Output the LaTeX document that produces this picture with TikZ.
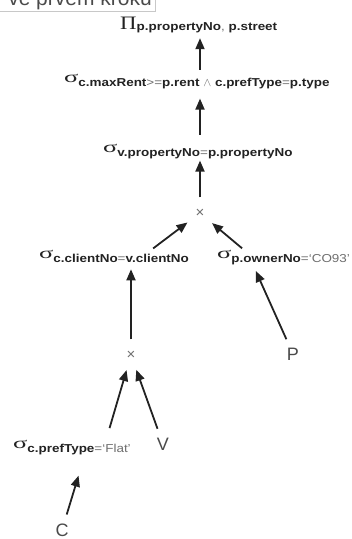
\documentclass[tikz,border=0pt]{standalone}
\usepackage{fontspec}
\usepackage{graphicx}
\usetikzlibrary{arrows.meta,calc,shapes.geometric}
\setmainfont{Liberation Sans}
\newfontfamily\attrfont[FakeStretch=1.17]{Liberation Sans Bold}
\newfontfamily\litfont[FakeStretch=1.17]{Liberation Sans}
\newfontfamily\grkfont{Liberation Serif}
\definecolor{ink}{HTML}{222222}
\definecolor{litgray}{HTML}{6E6E6E}
\definecolor{relgray}{HTML}{4A4A4A}
\definecolor{framegray}{HTML}{C8C8C8}
% operator symbol followed by a lowered subscript
\newcommand\opsub[2]{{#1}\raisebox{-4pt}{\attrfont\fontsize{11.5}{11.5}\selectfont\color{ink}#2}}
\newcommand\selop[1]{\opsub{\grkfont\fontsize{16}{16}\selectfont\color{ink}\scalebox{1.65}[1]{σ}}{#1}}
\newcommand\lit[1]{{\litfont\color{litgray}#1}}
\newcommand\andop{{\fontsize{12}{12}\selectfont\color{litgray}$\wedge$}}
\begin{document}
\begin{tikzpicture}[x=1pt,y=-1pt,
  lbl/.style={anchor=base west,inner sep=0pt},
  rel/.style={circle,minimum size=32pt,inner sep=0pt,font=\fontsize{18}{18}\selectfont,text=relgray},
  prodop/.style={circle,minimum size=31pt,inner sep=0pt,font=\fontsize{15}{15}\selectfont,text=litgray},
  arr/.style={draw=ink,line width=1.8pt,-{Triangle[length=11pt,width=9pt]}}]
\useasboundingbox (0,0) rectangle (352,539);

% caption box cut at the top edge
\begin{scope}
  \clip (0,0) rectangle (352,539);
  \draw[framegray,fill=white,line width=0.8pt] (-2,-20) rectangle (155,11);
  \clip (0,0) rectangle (154,10.5);
  \node[anchor=base east,inner sep=0pt,text=relgray,font=\fontsize{21}{21}\selectfont] (caption) at (152,5) {ve prvém kroku};
\end{scope}

% operator nodes
\node[lbl] (proj) at (120,29) {\opsub{\grkfont\fontsize{19}{19}\selectfont\color{ink}\scalebox{1.2}[1]{Π}}{\raisebox{3pt}{p.propertyNo\lit{, }p.street}}};
\node[lbl] (s1) at (64,82) {\selop{c.maxRent\lit{>=}p.rent\lit{\ }\andop\lit{\ }c.prefType\lit{=}p.type}};
\node[lbl] (s2) at (103,152) {\selop{v.propertyNo\lit{=}p.propertyNo}};
\node[prodop] (x1) at (200,213) {×};
\node[lbl] (s3) at (39,258) {\selop{c.clientNo\lit{=}v.clientNo}};
\node[lbl] (s4) at (217,258) {\selop{p.ownerNo\lit{=‘CO93’}}};
\node[prodop] (x2) at (131,355) {×};
\node[rel] (P) at (293,354) {P};
\node[lbl] (s5) at (13,448) {\selop{c.prefType\lit{=‘Flat’}}};
\node[rel] (V) at (163,444) {V};
\node[rel] (C) at (62,530) {C};

% data flow, from the relations up to the projection
\draw[arr,shorten <=4pt,shorten >=5pt] (s1.north -| x1) -- (proj.south -| x1);
\draw[arr,shorten <=9pt,shorten >=10pt] (s2.north -| x1) -- (s1.south -| x1);
\draw[arr,shorten >=2pt] (x1) -- (s2.south -| x1);
\draw[arr,shorten <=2pt] ($(s3.north west)!0.75!(s3.north east)$) -- (x1);
\draw[arr,shorten <=2pt] ($(s4.north west)!0.2!(s4.north east)$) -- (x1);
\draw[arr,shorten >=7pt] (x2) -- (x2 |- s3.south);
\draw[arr,shorten >=7pt] (P) -- ($(s4.south west)!0.27!(s4.south east)$);
\draw[arr,shorten <=12pt] ($(s5.north west)!0.79!(s5.north east)$) -- (x2);
\draw[arr] (V) -- (x2);
\draw[arr,shorten >=22pt] (C) -- ($(s5.south west)!0.61!(s5.south east)$);
\end{tikzpicture}
\end{document}
